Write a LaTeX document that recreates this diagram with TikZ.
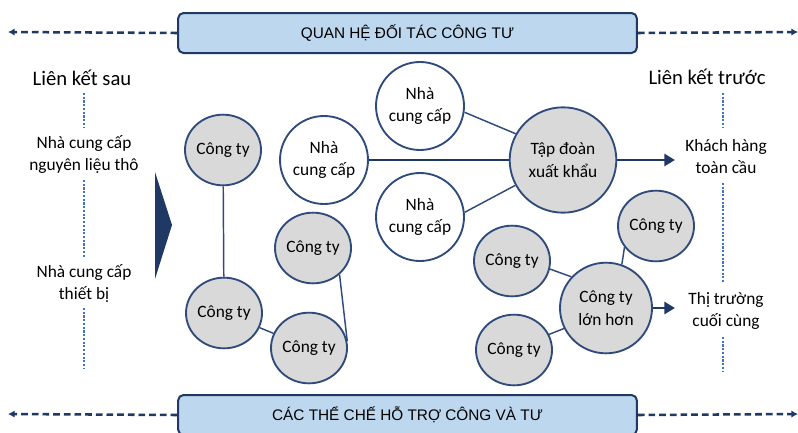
\documentclass[tikz,border=0pt]{standalone}
\usepackage{fontspec}
\setmainfont{Carlito}
\newfontfamily\boxfont{Liberation Sans}
\usetikzlibrary{arrows.meta,positioning,shapes.geometric}
\definecolor{navy}{HTML}{1F3864}
\definecolor{rim}{HTML}{2F4B7C}
\definecolor{firmgray}{HTML}{D9D9D9}
\definecolor{boxblue}{HTML}{BDD7EE}
\definecolor{dotblue}{HTML}{4472C4}
\tikzset{
  firm node/.style={ellipse,draw=rim,line width=1.4pt,fill=firmgray,minimum width=57pt,minimum height=53pt,inner sep=0pt,align=center,font=\fontsize{13}{17}\selectfont},
  supplier node/.style={firm node,fill=white,minimum width=66pt,minimum height=66pt},
  hub node/.style={firm node,minimum width=80pt,minimum height=79pt},
  big node/.style={firm node,minimum width=69pt,minimum height=68pt},
  side label/.style={align=center,inner sep=1pt,font=\fontsize{13}{16.5}\selectfont},
  side title/.style={inner sep=1pt,font=\fontsize{15.5}{18}\selectfont},
  frame box/.style={draw=navy,line width=1.5pt,fill=boxblue,rounded corners=4pt,minimum width=344pt,minimum height=30pt,font=\boxfont\fontsize{11.5}{13}\selectfont},
  link/.style={rim,line width=1.1pt},
  main link/.style={navy,line width=2.2pt},
  main arrow/.style={main link,-{Triangle[length=8pt,width=9pt]}},
  side dots/.style={dotblue,line width=1.8pt,dash pattern=on 1.6pt off 1.2pt},
  frame arrow/.style={navy,line width=1.9pt,dash pattern=on 5pt off 3pt,-{Latex[length=5pt,width=5.5pt]}},
}
\begin{document}
\begin{tikzpicture}[x=0.75pt,y=-0.75pt]
  \useasboundingbox (0,0) rectangle (798,432);
  % frame boxes
  \node[frame box] (ppp) at (407.5,33) {QUAN HỆ ĐỐI TÁC CÔNG TƯ};
  \node[frame box] (inst) at (407.5,415) {CÁC THỂ CHẾ HỖ TRỢ CÔNG VÀ TƯ};
  \coordinate (pppL) at (8,32);
  \coordinate (pppR) at (798,32);
  \coordinate (instL) at (8,414);
  \coordinate (instR) at (798,414);
  \draw[frame arrow] (ppp.west) -- (pppL);
  \draw[frame arrow] (ppp.east) -- (pppR);
  \draw[frame arrow] (inst.west) -- (instL);
  \draw[frame arrow] (inst.east) -- (instR);

  % backward side
  \node[side title] (back) at (82,78) {Liên kết sau};
  \node[side label] (raw) at (84,154) {Nhà cung cấp\\nguyên liệu thô};
  \node[side label] (equip) at (84,283) {Nhà cung cấp\\thiết bị};
  \coordinate (backEnd) at (84,369);
  \draw[side dots] (84,93) -- (84,127);
  \draw[side dots] (84,180) -- (84,257);
  \draw[side dots] (84,308) -- (backEnd);
  \fill[navy] (155,172) -- (172,225) -- (155,279) -- cycle;

  % forward side
  \node[side title] (fwd) at (707,77) {Liên kết trước};
  \node[side label] (global) at (726,157) {Khách hàng\\toàn cầu};
  \node[side label] (final) at (726,311) {Thị trường\\cuối cùng};
  \coordinate (fwdEnd) at (723,372);
  \draw[side dots] (723,93) -- (723,128);
  \draw[side dots] (723,183) -- (723,282);
  \draw[side dots] (723,337) -- (fwdEnd);

  % firms
  \node[firm node] (c1) at (223,150) {Công ty};
  \node[firm node] (c2) at (224,313) {Công ty};
  \node[firm node] (c3) at (313,248) {Công ty};
  \node[firm node] (c4) at (309,348) {Công ty};
  \node[firm node] (c5) at (512,261) {Công ty};
  \node[firm node] (c6) at (514,350) {Công ty};
  \node[firm node] (c7) at (656,226) {Công ty};
  \node[big node] (big) at (606,308) {Công ty\\lớn hơn};

  % suppliers and exporter
  \node[supplier node] (p1) at (324,160) {Nhà\\cung cấp};
  \node[supplier node] (p2) at (420,106) {Nhà\\cung cấp};
  \node[supplier node] (p3) at (420,217) {Nhà\\cung cấp};
  \node[hub node] (hub) at (563,160) {Tập đoàn\\xuất khẩu};

  \draw[link] (c1) -- (c2);
  \draw[link] (c2) -- (c4);
  \draw[link] (c3.-45) -- (c4.10);
  \draw[link] (p2.-8) -- (hub.151);
  \draw[link] (p3.6) -- (hub.-152);
  \draw[link] (c5.-12) -- (big.138);
  \draw[link] (c6.24) -- (big.206);
  \draw[link] (c7.214) -- (big.70);
  \draw[main link] (p1) -- (hub);
  \coordinate (hubEnd) at (675,160);
  \coordinate (bigEnd) at (675,308);
  \draw[main arrow] (hub) -- (hubEnd);
  \draw[main arrow] (big) -- (bigEnd);
\end{tikzpicture}
\end{document}
